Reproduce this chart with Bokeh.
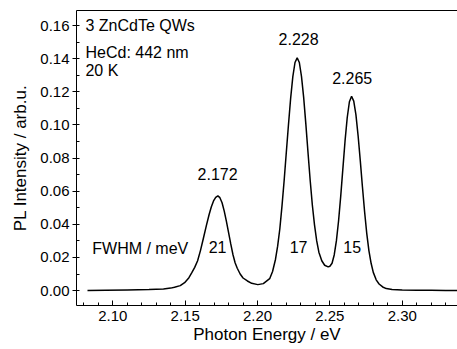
from bokeh.plotting import figure
from bokeh.models import (Range1d, LinearAxis, SingleIntervalTicker, FixedTicker,
                          PrintfTickFormatter, Label)
from bokeh.embed import file_html
from bokeh.resources import INLINE

# PL spectrum (photon energy in eV, intensity in arb.u.)
energy = [
    2.0825, 2.0950, 2.1100, 2.1250, 2.1350, 2.1400, 2.1426, 2.1466, 2.1496, 2.1526,
    2.1546, 2.1566, 2.1586, 2.1606, 2.1626, 2.1646, 2.1666, 2.1681, 2.1696, 2.1711,
    2.1726, 2.1740, 2.1755, 2.1770, 2.1785, 2.1800, 2.1815, 2.1830, 2.1845, 2.1860,
    2.1880, 2.1900, 2.1930, 2.1960, 2.2002, 2.2040, 2.2084, 2.2104, 2.2124, 2.2139,
    2.2154, 2.2169, 2.2184, 2.2199, 2.2214, 2.2229, 2.2244, 2.2259, 2.2274, 2.2289,
    2.2304, 2.2319, 2.2334, 2.2349, 2.2364, 2.2379, 2.2394, 2.2409, 2.2424, 2.2444,
    2.2464, 2.2488, 2.2500, 2.2515, 2.2530, 2.2545, 2.2560, 2.2575, 2.2590, 2.2605,
    2.2620, 2.2635, 2.2650, 2.2665, 2.2680, 2.2695, 2.2710, 2.2725, 2.2740, 2.2755,
    2.2770, 2.2785, 2.2800, 2.2820, 2.2840, 2.2865, 2.2890, 2.2930, 2.3000, 2.3100,
    2.3200, 2.3300, 2.3400,
]
intensity = [
    0.0000, 0.0002, 0.0004, 0.0006, 0.0010, 0.0015, 0.0020, 0.0030, 0.0048, 0.0078,
    0.0108, 0.0140, 0.0180, 0.0243, 0.0316, 0.0391, 0.0461, 0.0506, 0.0541, 0.0563,
    0.0572, 0.0561, 0.0530, 0.0480, 0.0418, 0.0350, 0.0282, 0.0218, 0.0168, 0.0135,
    0.0100, 0.0076, 0.0058, 0.0044, 0.0036, 0.0042, 0.0072, 0.0115, 0.0188, 0.0268,
    0.0372, 0.0510, 0.0665, 0.0835, 0.1003, 0.1162, 0.1292, 0.1377, 0.1405, 0.1377,
    0.1292, 0.1165, 0.1005, 0.0832, 0.0665, 0.0515, 0.0395, 0.0300, 0.0232, 0.0180,
    0.0153, 0.0143, 0.0147, 0.0165, 0.0215, 0.0300, 0.0420, 0.0570, 0.0738, 0.0905,
    0.1045, 0.1140, 0.1173, 0.1144, 0.1062, 0.0936, 0.0786, 0.0627, 0.0476, 0.0344,
    0.0240, 0.0165, 0.0110, 0.0065, 0.0040, 0.0022, 0.0012, 0.0006, 0.0003, 0.0002,
    0.0002, 0.0001, 0.0001,
]

peak_energies = [2.172, 2.228, 2.265]
peak_labels = ["2.172", "2.228", "2.265"]
fwhm_labels = ["21", "17", "15"]
info_lines = ["3 ZnCdTe QWs", "HeCd: 442 nm", "20 K"]
fwhm_title = "FWHM / meV"
x_title = "Photon Energy / eV"
y_title = "PL Intensity / arb.u."

FONT = "Liberation Sans"

p = figure(width=457, height=349, output_backend="svg", toolbar_location=None,
           x_range=Range1d(2.0749, 2.3382), y_range=Range1d(-0.0090, 0.1691),
           min_border_left=76, min_border_right=0, min_border_top=10,
           min_border_bottom=44, x_axis_label=x_title, y_axis_label=y_title)
p.outline_line_color = None
p.grid.visible = False
p.background_fill_color = "white"
p.border_fill_color = "white"

p.line(energy, intensity, line_color="black", line_width=1.5)

# axes
xa = p.xaxis[0]
xa.ticker = SingleIntervalTicker(interval=0.05, num_minor_ticks=5)
xa.formatter = PrintfTickFormatter(format="%.2f")
xa.major_tick_in = 5
xa.major_tick_out = 0
xa.minor_tick_in = 3
xa.minor_tick_out = 0
xa.major_label_standoff = 5
xa.axis_label_standoff = 1
ya = p.yaxis[0]
ya.ticker = SingleIntervalTicker(interval=0.02, num_minor_ticks=2)
ya.formatter = PrintfTickFormatter(format="%.2f")
ya.major_tick_in = 0
ya.major_tick_out = 4
ya.minor_tick_in = 3
ya.minor_tick_out = 0
ya.major_label_standoff = 3
ya.axis_label_standoff = 7
for ax in (xa, ya):
    ax.axis_line_color = "black"
    ax.major_tick_line_color = "black"
    ax.minor_tick_line_color = "black"
    ax.major_label_text_font = FONT
    ax.major_label_text_font_size = "15px"
    ax.major_label_text_color = "black"
    ax.axis_label_text_font = FONT
    ax.axis_label_text_font_size = "17px"
    ax.axis_label_text_font_style = "normal"
    ax.axis_label_text_color = "black"

top = LinearAxis(ticker=FixedTicker(ticks=[]), major_tick_in=0, major_tick_out=0,
                 minor_tick_in=0, minor_tick_out=0, major_label_standoff=0,
                 major_label_text_font_size="0px", axis_line_color="black")
p.add_layout(top, "above")

# text annotations
for txt, yy in zip(info_lines, [0.1600, 0.1439, 0.1329]):
    p.add_layout(Label(x=2.0811, y=yy, text=txt, text_align="left",
                       text_baseline="middle", text_font=FONT,
                       text_font_size="16px", text_color="black"))
for e, txt, yy in zip(peak_energies, peak_labels, [0.0705, 0.1520, 0.1284]):
    p.add_layout(Label(x=e + 0.0004, y=yy, text=txt, text_align="center",
                       text_baseline="middle", text_font=FONT,
                       text_font_size="16px", text_color="black"))
for e, txt in zip(peak_energies, fwhm_labels):
    p.add_layout(Label(x=e + 0.0004, y=0.0262, text=txt, text_align="center",
                       text_baseline="middle", text_font=FONT,
                       text_font_size="16px", text_color="black"))
p.add_layout(Label(x=2.0858, y=0.0256, text=fwhm_title, text_align="left",
                   text_baseline="middle", text_font=FONT, text_font_size="16px",
                   text_color="black"))

open("out.html", "w").write(file_html(p, INLINE))
